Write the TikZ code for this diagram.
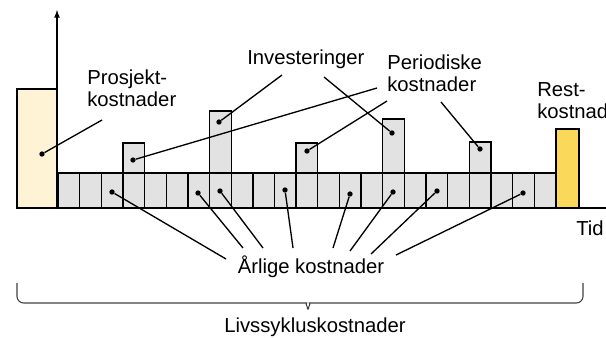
\documentclass[tikz,border=0pt]{standalone}
\usepackage{fontspec}
\setmainfont{Liberation Sans}
\usetikzlibrary{shapes,positioning}
\usepackage{xcolor}
\definecolor{prosjfill}{RGB}{255,243,214}
\definecolor{restfill}{RGB}{250,216,90}
\definecolor{barfill}{RGB}{226,226,226}

\begin{document}
\begin{tikzpicture}[x=0.75pt,y=-0.75pt,
    lbl/.style={inner sep=0pt, align=left, font=\fontsize{15.2}{16.5}\selectfont},
    dot/.style={circle, fill=black, inner sep=0pt, minimum size=4pt},
    leader/.style={line width=1pt},
    barbox/.style={draw, line width=1pt, fill=barfill}]
    \useasboundingbox (0,0) rectangle (606,337);
    % tall bars (investments and periodic costs)
    \foreach \i/\top in {3/143, 7/111, 11/143, 15/119, 19/142}
        \draw [barbox] (58+\i*21.65,\top) rectangle (58+\i*21.65+21.65,208);
    % yearly bars
    \foreach \i in {0,...,22}
        \draw [barbox] (58+\i*21.65,173) rectangle (58+\i*21.65+21.65,208);
    \draw [line width=1pt, fill=prosjfill] (17,208) rectangle (57,89);
    \draw [line width=1pt, fill=restfill] (556,208) rectangle (579,129);
    \draw [line width=1pt] (17,208) -- (606,208);
    \draw [line width=1pt, -latex] (57,208) -- (57,10);

    \node [lbl, anchor=north west] (prosj) at (87,70) {Prosjekt-\\kostnader};
    \node [lbl, anchor=north west] (inv) at (247,50) {Investeringer};
    \node [lbl, anchor=north west] (per) at (387,55) {Periodiske\\kostnader};
    \node [lbl, anchor=north west] (rest) at (537,82) {Rest-\\kostnader};
    \node [lbl, anchor=north west] (tid) at (576,221) {Tid};
    \node [lbl, anchor=base] (arlig) at (311,273) {Årlige kostnader};
    \node [lbl, anchor=base] (livs) at (315,332) {Livssykluskostnader};

    % leaders to the upper labels
    \node [dot] (pd) at (42,154) {};
    \node [dot] (p1) at (133,160) {};
    \node [dot] (i1) at (219,122) {};
    \node [dot] (i2) at (392,133) {};
    \node [dot] (p2) at (307,151) {};
    \node [dot] (p3) at (480,149) {};
    \coordinate (pde) at (102,120);
    \coordinate (p1e) at (377,88);
    \coordinate (i1e) at (282,75);
    \coordinate (i2e) at (324,77);
    \coordinate (p2e) at (387,101);
    \coordinate (p3e) at (441,102);
    \foreach \n in {pd,p1,i1,i2,p2,p3}
        \draw [leader] (\n) -- (\n e);

    % leaders to the yearly costs
    \foreach \n/\x/\y/\ex/\ey in {a1/112/192/226/259, a2/198/193/243/248,
        a3/220/191/263/248, a4/285/190/293/248, a5/350/194/333/248,
        a6/393/192/350/251, a7/437/191/371/254, a8/523/193/396/255} {
        \node [dot] (\n) at (\x,\y) {};
        \coordinate (\n e) at (\ex,\ey);
        \draw [leader] (\n) -- (\n e);
    }

    % brace
    \draw [line width=0.8pt, black!75, rounded corners=5pt] (17,283) -- (17,303) -- (300,303)
        .. controls (305,303) and (307,306) .. (308,313)
        .. controls (309,306) and (311,303) .. (316,303) -- (583,303) -- (583,283);
\end{tikzpicture}
\end{document}
